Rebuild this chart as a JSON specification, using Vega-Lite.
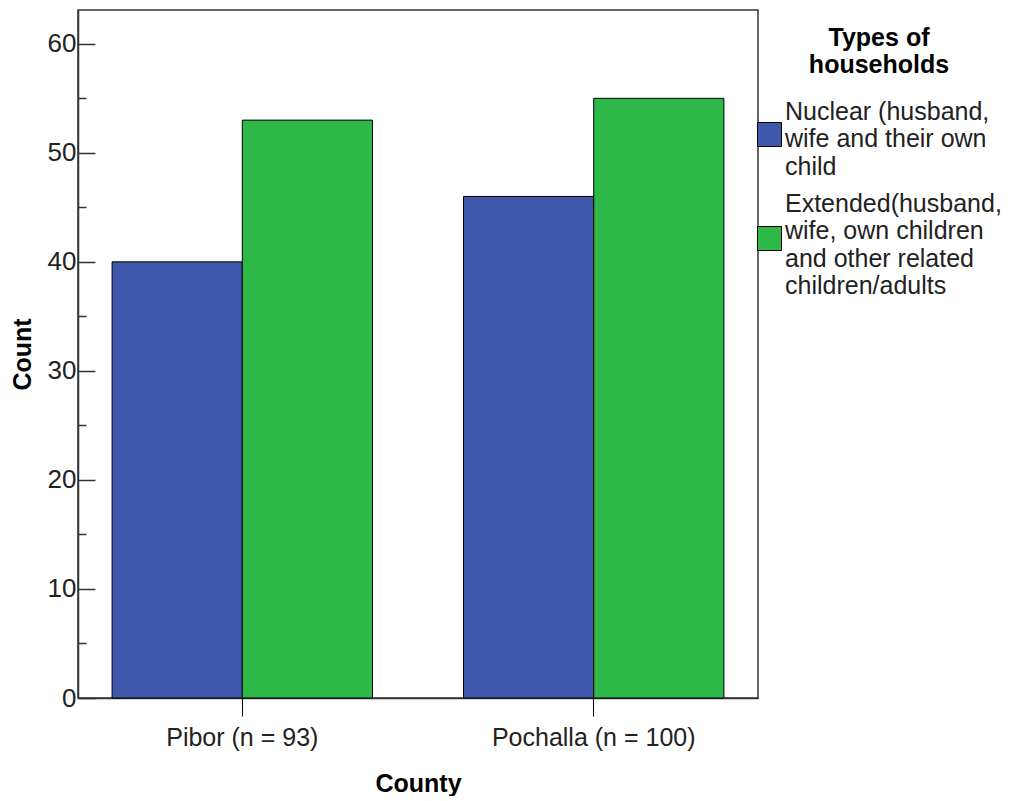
{
  "$schema": "https://vega.github.io/schema/vega-lite/v6.json",
  "width": 680,
  "height": 688,
  "padding": {"left": 10, "top": 10, "right": 0, "bottom": 0},
  "background": "white",
  "config": {
    "font": "Liberation Sans",
    "view": {"stroke": "#333333", "strokeWidth": 1.5}
  },
  "data": {
    "values": [
      {"county": "Pibor (n = 93)", "type": "Nuclear", "count": 40},
      {"county": "Pibor (n = 93)", "type": "Extended", "count": 53},
      {"county": "Pochalla (n = 100)", "type": "Nuclear", "count": 46},
      {"county": "Pochalla (n = 100)", "type": "Extended", "count": 55}
    ]
  },
  "mark": {"type": "bar", "stroke": "black", "strokeWidth": 1},
  "encoding": {
    "x": {
      "field": "county",
      "type": "nominal",
      "sort": null,
      "scale": {"paddingInner": 0.259, "paddingOuter": 0.097},
      "axis": {
        "title": "County",
        "titleFontSize": 25,
        "titleFontWeight": "bold",
        "titleColor": "black",
        "titlePadding": 21,
        "labelAngle": 0,
        "labelFontSize": 25,
        "labelLimit": 400,
        "labelColor": "#222222",
        "labelPadding": 9,
        "tickSize": 18,
        "tickColor": "black",
        "domainColor": "#333333",
        "domainWidth": 1.5
      }
    },
    "xOffset": {
      "field": "type",
      "type": "nominal",
      "sort": ["Nuclear", "Extended"],
      "scale": {"paddingInner": 0, "paddingOuter": 0}
    },
    "y": {
      "field": "count",
      "type": "quantitative",
      "scale": {"domain": [0, 63.1], "nice": false},
      "axis": {
        "title": "Count",
        "titleFontSize": 25,
        "titleFontWeight": "bold",
        "titleColor": "black",
        "titlePadding": 12,
        "values": [0, 5, 10, 15, 20, 25, 30, 35, 40, 45, 50, 55, 60],
        "labelExpr": "datum.value % 10 === 0 ? datum.label : ''",
        "labelFontSize": 26,
        "labelColor": "#222222",
        "labelPadding": 19,
        "tickSize": {"condition": {"test": "datum.value % 10 === 0", "value": -17}, "value": -8},
        "tickColor": "#333333",
        "tickWidth": 1.5,
        "domainColor": "#333333",
        "domainWidth": 1.5,
        "grid": false
      }
    },
    "color": {
      "field": "type",
      "type": "nominal",
      "sort": ["Nuclear", "Extended"],
      "scale": {"domain": ["Nuclear", "Extended"], "range": ["#3e58ac", "#2eb848"]},
      "legend": {
        "title": ["Types of", "households"],
        "orient": "right",
        "offset": -17,
        "padding": 16,
        "titleFontSize": 25,
        "titleFontWeight": "bold",
        "titleColor": "black",
        "titleAnchor": "middle",
        "titleAlign": "center",
        "titleLineHeight": 27,
        "titlePadding": 44,
        "labelFontSize": 25,
        "labelColor": "#222222",
        "labelLimit": 400,
        "labelOffset": 3,
        "symbolType": "square",
        "symbolSize": 576,
        "symbolStrokeColor": "black",
        "symbolStrokeWidth": 1,
        "rowPadding": 11,
        "labelExpr": "datum.value === 'Nuclear' ? ['Nuclear (husband,', 'wife and their own', 'child'] : ['Extended(husband,', 'wife, own children', 'and other related', 'children/adults']",
        "encode": {"labels": {"update": {"lineHeight": {"value": 27.5}, "dy": {"signal": "datum.value === 'Nuclear' ? -23 : -35"}}}}
      }
    }
  }
}
